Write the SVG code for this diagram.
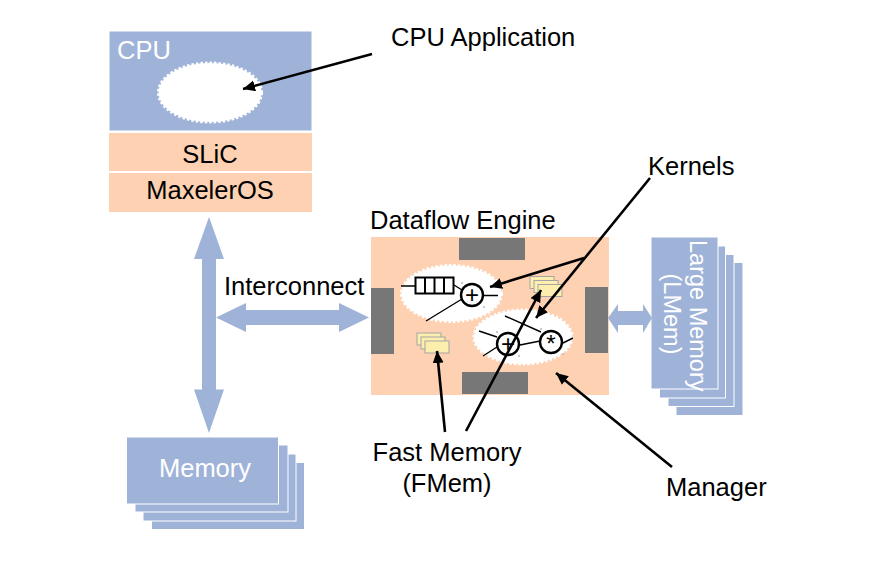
<svg xmlns="http://www.w3.org/2000/svg" width="874" height="569" viewBox="0 0 874 569">
<style>
text{font-family:"Liberation Sans",Arial,sans-serif;font-size:25.500px;fill:#000}
.w{fill:#fff}
.blue{fill:#9fb3d9;stroke:#fff;stroke-width:1}
.sil{fill:#9fb3d9}
.peach{fill:#fdd1b2}
.gray{fill:#777}
.blob{fill:#fff;stroke:#fff;stroke-width:3;stroke-dasharray:2.500 2}
.k{stroke:#000;fill:none;stroke-width:1.400}
.a{stroke:#000;fill:none;stroke-width:2.600}
.y{fill:#fdeeae;stroke:#a5a5a5;stroke-width:1}
.c{fill:#fff;stroke:#000;stroke-width:2.400}
.d{fill:#333}
.op{font-size:24px}
</style>
<defs>
<marker id="ah" markerWidth="14" markerHeight="12" refX="12" refY="5.500" orient="auto" markerUnits="userSpaceOnUse"><path d="M0 0L12 5.500L0 11Z" fill="#000"/></marker>
</defs>
<g id="cpu">
<rect class="blue" x="109" y="31" width="203" height="100"/>
<text class="w" x="117" y="59">CPU</text>
<ellipse class="blob" cx="210" cy="92.500" rx="51.500" ry="29.500"/>
</g>
<g id="slic"><rect class="peach" x="109" y="133" width="203" height="38"/><text x="210" y="163" text-anchor="middle">SLiC</text></g>
<g id="maxeleros"><rect class="peach" x="109" y="173" width="203" height="39"/><text x="210" y="199" text-anchor="middle">MaxelerOS</text></g>
<g id="memory">
<rect class="sil" x="152" y="463" width="152" height="66"/>
<rect class="blue" x="143" y="454" width="153" height="67"/>
<rect class="blue" x="135" y="445" width="153" height="67"/>
<rect class="blue" x="126.500" y="437" width="152" height="67"/>
<text class="w" x="205" y="477" text-anchor="middle">Memory</text>
</g>
<g id="lmem">
<rect class="sil" x="676.500" y="263" width="66" height="152"/>
<rect class="blue" x="668" y="254.500" width="66" height="152"/>
<rect class="blue" x="659.500" y="246" width="66" height="152"/>
<rect class="blue" x="651" y="237" width="67" height="152"/>
<text class="w" transform="translate(690 240) rotate(90)" style="font-size:23.500px">Large Memory</text>
<text class="w" transform="translate(664 314) rotate(90)" text-anchor="middle" style="font-size:23.500px">(LMem)</text>
</g>
<g id="dfe">
<text x="370" y="229">Dataflow Engine</text>
<rect class="peach" x="371" y="237" width="238" height="158"/>
<rect class="gray" x="459" y="238" width="66" height="22"/>
<rect class="gray" x="462" y="372" width="66" height="22"/>
<rect class="gray" x="371" y="288" width="23" height="66"/>
<rect class="gray" x="585" y="287" width="23" height="66"/>
</g>
<g id="kernel1">
<ellipse class="blob" cx="451.500" cy="293.500" rx="50" ry="28"/>
<path class="k" d="M401 286H415M454 285L462 290M484 295.500H498M426 321L462 299"/>
<rect x="415.500" y="277.500" width="38" height="16" fill="#fff" stroke="#000" stroke-width="2"/>
<path class="k" style="stroke-width:2" d="M425 278V293M434.500 278V293M444 278V293"/>
<circle class="c" cx="472" cy="295" r="11"/>
<text class="op" x="472" y="303" text-anchor="middle">+</text>
<rect class="d" x="461.500" y="282.500" width="1" height="1"/>
<rect class="d" x="483.500" y="306.500" width="1" height="1"/>
</g>
<g id="kernel2">
<ellipse class="blob" cx="523" cy="337" rx="49" ry="27"/>
<path class="k" d="M479 331L497 337M483 356L497 347M505 316L541 332M520 345L540 341M563 343L573 338"/>
<circle class="c" cx="508" cy="344" r="11"/>
<text class="op" x="508" y="352" text-anchor="middle">+</text>
<circle class="c" cx="551" cy="342" r="11"/>
<text class="op" x="551" y="352" text-anchor="middle">*</text>
<rect class="d" x="496.500" y="331.500" width="1" height="1"/>
<rect class="d" x="518.500" y="355.500" width="1" height="1"/>
<rect class="d" x="540.500" y="328.500" width="1" height="1"/>
<rect class="d" x="562.500" y="353.500" width="1" height="1"/>
</g>
<g id="fmem1">
<rect class="y" x="530" y="276.500" width="24" height="12"/>
<rect class="y" x="534" y="280.500" width="24" height="12"/>
<rect class="y" x="538" y="284.500" width="24" height="12"/>
</g>
<g id="fmem2">
<rect class="y" x="417" y="333" width="24" height="12"/>
<rect class="y" x="421" y="337" width="24" height="12"/>
<rect class="y" x="425" y="341" width="24" height="12"/>
</g>
<g id="connectors">
<path class="sil" d="M209 217L224 259H216V389.500H224L209 433L194 389.500H202V259H194Z"/>
<path class="sil" d="M216 317.500L246 303V310H339V303L369 317.500L339 332V325H246V332Z"/>
<path class="sil" d="M608 318L618 304V311H643V304L652 318L643 333V325H618V333Z"/>
<path class="a" marker-end="url(#ah)" d="M372 54L243 89"/>
<path class="a" marker-end="url(#ah)" d="M584 258L490 287"/>
<path class="a" marker-end="url(#ah)" d="M650 178L536 318"/>
<path class="a" marker-end="url(#ah)" d="M445 432L437 351"/>
<path class="a" marker-end="url(#ah)" d="M466 431L541 290"/>
<path class="a" marker-end="url(#ah)" d="M672 467L556 373"/>
</g>
<g id="labels">
<text x="391" y="46">CPU Application</text>
<text x="224" y="295">Interconnect</text>
<text x="648" y="175">Kernels</text>
<text x="447" y="461" text-anchor="middle">Fast Memory</text>
<text x="447" y="492" text-anchor="middle">(FMem)</text>
<text x="666" y="496">Manager</text>
</g>
</svg>
